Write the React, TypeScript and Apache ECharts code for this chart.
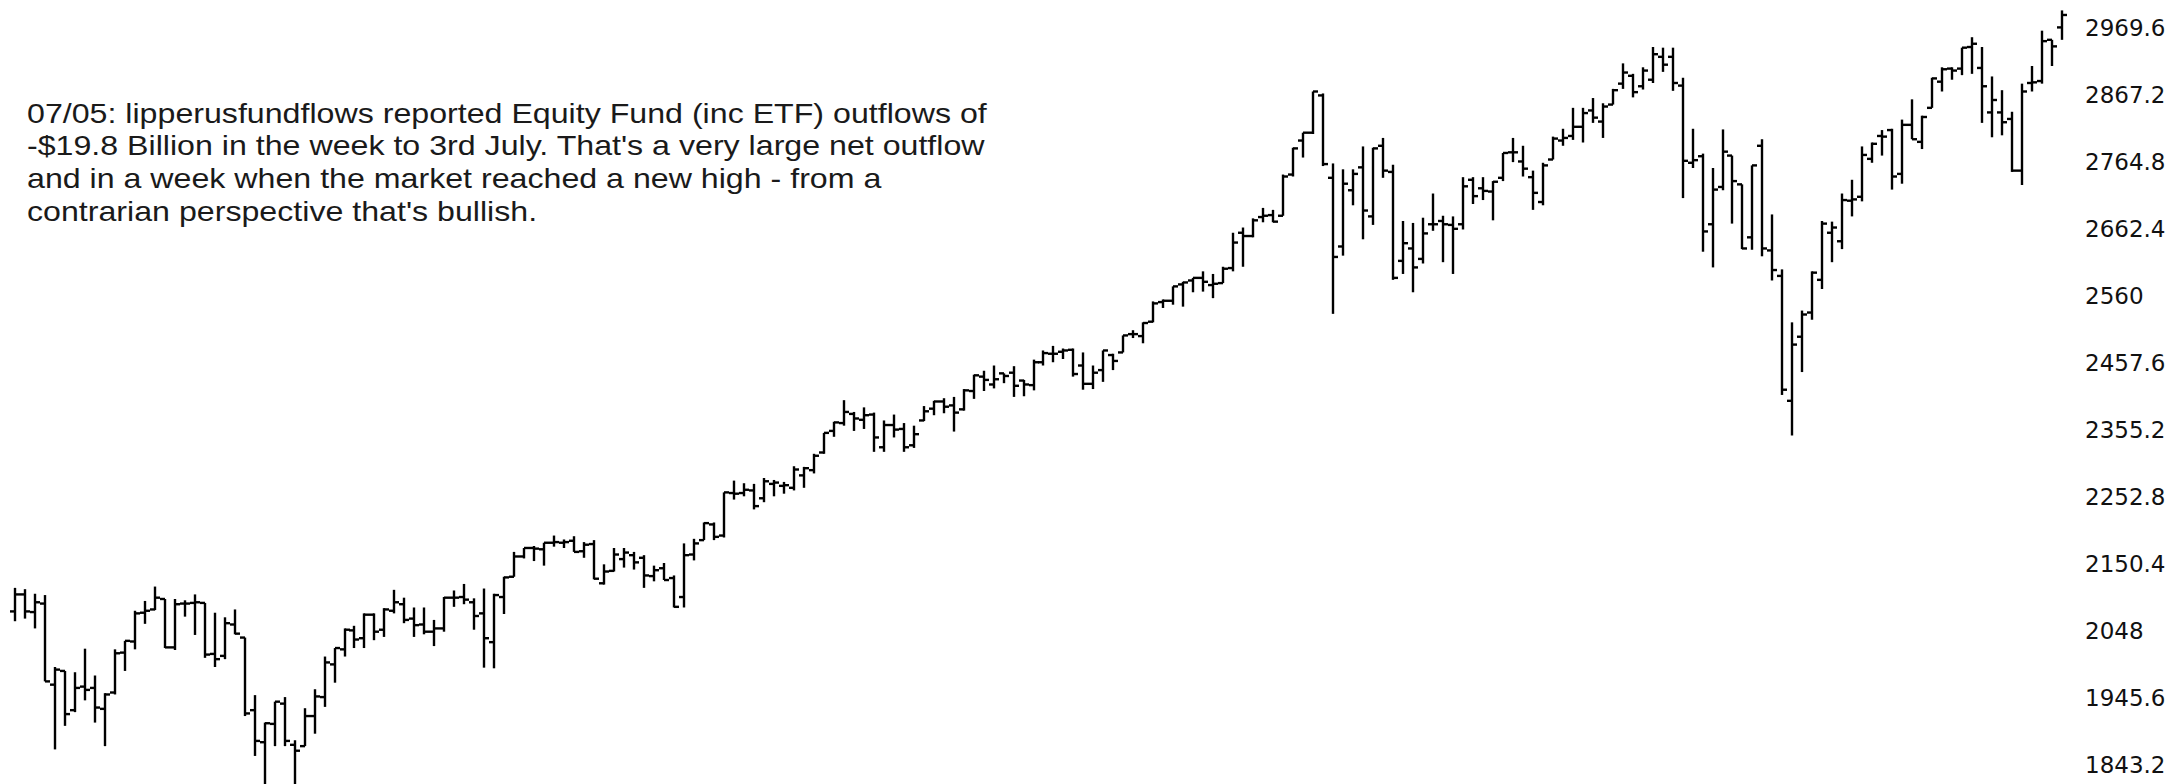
import React, { useEffect, useRef } from "react";
import * as echarts from "echarts";

// Weekly bars (Monday of each week), S&P 500, late Jul 2015 .. early Jul 2019
const firstWeek = "2015-07-27";
const weekCount = 206;

const opens: number[] = [
  // 2015
  2078, 2104, 2077, 2090, 1966, 1987, 1927, 1963, 1961, 1929, 1954, 2015, 2032, 2076, 2081, 2097, 2023, 2090, 2091, 2091, 2013, 2010, 2058,
  // 2016
  2038, 1927, 1878, 1906, 1937, 1874, 1872, 1918, 1947, 1997, 2020, 2049, 2037, 2073, 2050, 2079, 2089, 2067, 2058, 2047, 2052, 2099, 2100, 2092, 2075, 2031,
  2100, 2131, 2162, 2175, 2173, 2183, 2183, 2186, 2170, 2181, 2121, 2140, 2158, 2164, 2160, 2132, 2144, 2129, 2100, 2165, 2187, 2211, 2194, 2259, 2259, 2263,
  // 2017
  2251, 2273, 2270, 2267, 2286, 2294, 2321, 2354, 2366, 2380, 2371, 2379, 2329, 2363, 2357, 2332, 2370, 2388, 2399, 2393, 2387, 2415, 2437, 2425, 2442, 2443,
  2431, 2424, 2459, 2472, 2475, 2478, 2454, 2426, 2447, 2470, 2474, 2502, 2499, 2521, 2551, 2553, 2578, 2584, 2588, 2577, 2580, 2603, 2657, 2652, 2681, 2684,
  // 2018
  2683, 2746, 2798, 2810, 2867, 2741, 2636, 2722, 2757, 2682, 2790, 2750, 2614, 2633, 2617, 2670, 2675, 2669, 2670, 2738, 2725, 2720, 2741, 2780, 2766, 2742,
  2704, 2769, 2798, 2805, 2819, 2844, 2827, 2853, 2885, 2897, 2881, 2891, 2926, 2926, 2882, 2764, 2774, 2670, 2727, 2775, 2731, 2650, 2790, 2630, 2591, 2400, 2498,
  // 2019
  2535, 2585, 2657, 2644, 2706, 2712, 2770, 2805, 2814, 2747, 2822, 2796, 2848, 2888, 2908, 2908, 2941, 2909, 2841, 2841, 2831, 2752, 2886, 2889, 2952, 2971,
];

const highs: number[] = [
  2114, 2112, 2105, 2103, 1993, 1987, 1985, 2021, 1980, 1953, 2020, 2033, 2079, 2094, 2116, 2097, 2097, 2095, 2104, 2091, 2076, 2069, 2081,
  2038, 1950, 1908, 1940, 1947, 1881, 1930, 1959, 2009, 2022, 2052, 2056, 2075, 2075, 2083, 2111, 2099, 2084, 2084, 2065, 2100, 2110, 2120, 2098, 2113, 2105,
  2131, 2169, 2175, 2178, 2183, 2194, 2188, 2193, 2184, 2187, 2150, 2175, 2175, 2169, 2164, 2148, 2152, 2133, 2182, 2189, 2214, 2214, 2260, 2278, 2274, 2273,
  2282, 2279, 2276, 2300, 2299, 2319, 2351, 2368, 2401, 2383, 2390, 2382, 2370, 2379, 2366, 2362, 2392, 2400, 2404, 2406, 2418, 2440, 2446, 2454, 2442, 2453,
  2432, 2463, 2477, 2484, 2480, 2480, 2474, 2454, 2477, 2472, 2500, 2508, 2520, 2552, 2555, 2575, 2582, 2588, 2598, 2594, 2605, 2657, 2665, 2679, 2695, 2692,
  2746, 2787, 2810, 2873, 2870, 2763, 2754, 2754, 2789, 2787, 2802, 2761, 2675, 2672, 2680, 2717, 2683, 2682, 2742, 2742, 2742, 2736, 2779, 2802, 2790, 2752,
  2764, 2804, 2816, 2848, 2848, 2863, 2855, 2877, 2916, 2900, 2910, 2941, 2940, 2940, 2894, 2816, 2778, 2756, 2815, 2775, 2731, 2760, 2800, 2685, 2601, 2520, 2538,
  2598, 2675, 2674, 2717, 2738, 2789, 2795, 2814, 2816, 2830, 2861, 2836, 2894, 2910, 2910, 2940, 2956, 2941, 2896, 2875, 2842, 2885, 2912, 2966, 2952, 2997,
];

const lows: number[] = [
  2063, 2067, 2052, 1971, 1867, 1903, 1924, 1942, 1908, 1872, 1951, 1987, 2020, 2059, 2080, 2022, 2019, 2070, 2042, 2007, 1993, 2005, 2043,
  1918, 1857, 1812, 1872, 1872, 1810, 1872, 1891, 1932, 1969, 2009, 2022, 2022, 2034, 2039, 2075, 2060, 2039, 2043, 2025, 2047, 2085, 2089, 2050, 1992, 1991,
  2074, 2131, 2159, 2155, 2148, 2177, 2175, 2169, 2160, 2127, 2119, 2139, 2145, 2142, 2114, 2124, 2126, 2084, 2084, 2156, 2187, 2187, 2191, 2249, 2254, 2234,
  2245, 2254, 2258, 2263, 2267, 2289, 2319, 2345, 2362, 2354, 2357, 2322, 2322, 2344, 2322, 2328, 2369, 2378, 2381, 2353, 2385, 2403, 2415, 2419, 2427, 2406,
  2407, 2416, 2454, 2459, 2464, 2437, 2417, 2418, 2429, 2447, 2474, 2496, 2488, 2520, 2542, 2547, 2544, 2566, 2567, 2557, 2580, 2598, 2605, 2650, 2673, 2673,
  2683, 2743, 2772, 2808, 2759, 2533, 2622, 2699, 2647, 2669, 2741, 2585, 2594, 2566, 2610, 2660, 2612, 2594, 2662, 2701, 2707, 2676, 2736, 2765, 2743, 2692,
  2699, 2769, 2790, 2799, 2795, 2825, 2802, 2853, 2877, 2864, 2876, 2886, 2903, 2874, 2710, 2756, 2628, 2604, 2722, 2671, 2632, 2631, 2621, 2584, 2409, 2347, 2444,
  2524, 2571, 2612, 2632, 2682, 2705, 2764, 2775, 2723, 2732, 2800, 2785, 2848, 2873, 2891, 2898, 2900, 2825, 2803, 2806, 2750, 2730, 2873, 2885, 2912, 2952,
];

const closes: number[] = [
  2104, 2078, 2092, 1971, 1989, 1921, 1961, 1958, 1931, 1951, 2014, 2033, 2075, 2079, 2099, 2023, 2089, 2090, 2092, 2012, 2005, 2060, 2044,
  1922, 1880, 1907, 1940, 1880, 1865, 1918, 1948, 2000, 2022, 2050, 2035, 2073, 2047, 2081, 2092, 2065, 2057, 2047, 2052, 2099, 2099, 2096, 2071, 2037, 2103,
  2130, 2162, 2175, 2174, 2183, 2184, 2184, 2169, 2180, 2128, 2139, 2165, 2168, 2153, 2133, 2141, 2126, 2085, 2164, 2182, 2213, 2192, 2260, 2258, 2264, 2239,
  2277, 2275, 2271, 2295, 2297, 2316, 2351, 2367, 2383, 2373, 2378, 2344, 2363, 2356, 2329, 2349, 2384, 2399, 2391, 2382, 2416, 2439, 2432, 2433, 2438, 2423,
  2425, 2459, 2473, 2472, 2477, 2441, 2426, 2443, 2477, 2461, 2500, 2502, 2519, 2549, 2553, 2575, 2581, 2588, 2582, 2579, 2602, 2642, 2652, 2676, 2683, 2674,
  2743, 2786, 2810, 2873, 2762, 2620, 2732, 2747, 2691, 2786, 2752, 2588, 2641, 2604, 2656, 2670, 2670, 2663, 2728, 2713, 2721, 2735, 2779, 2780, 2755, 2718,
  2760, 2801, 2802, 2819, 2840, 2833, 2850, 2875, 2902, 2872, 2905, 2930, 2914, 2886, 2767, 2768, 2659, 2723, 2781, 2736, 2633, 2760, 2633, 2600, 2417, 2486, 2532,
  2596, 2671, 2665, 2707, 2708, 2776, 2793, 2804, 2743, 2822, 2800, 2834, 2893, 2907, 2905, 2940, 2946, 2881, 2860, 2826, 2752, 2873, 2887, 2950, 2942, 2990,
];

const yTickLabels: number[] = [1843.2, 1945.6, 2048, 2150.4, 2252.8, 2355.2, 2457.6, 2560, 2662.4, 2764.8, 2867.2, 2969.6];

const noteLines: string[] = [
  "07/05: lipperusfundflows reported Equity Fund (inc ETF) outflows of",
  "-$19.8 Billion in the week to 3rd July. That's a very large net outflow",
  "and in a week when the market reached a new high - from a",
  "contrarian perspective that's bullish.",
];

function buildWeeks(): string[] {
  const out: string[] = [];
  const start = new Date(firstWeek + "T00:00:00Z").getTime();
  for (let i = 0; i < weekCount; i++) {
    const d = new Date(start + i * 7 * 86400000);
    out.push(d.toISOString().slice(0, 10));
  }
  return out;
}

export default function App() {
  const ref = useRef<HTMLDivElement>(null);

  useEffect(() => {
    if (!ref.current) return;
    const chart = echarts.init(ref.current, undefined, { renderer: "svg" });
    const weeks = buildWeeks();
    const seriesData = weeks.map((_, i) => [i, opens[i], highs[i], lows[i], closes[i]]);

    chart.setOption({
      animation: false,
      backgroundColor: "#ffffff",
      grid: { left: 10, right: 114, top: 0, bottom: 0, containLabel: false },
      xAxis: {
        type: "category",
        data: weeks,
        boundaryGap: true,
        show: false,
      },
      yAxis: {
        type: "value",
        position: "right",
        min: 1814.1,
        max: 3012.9,
        scale: true,
        axisLine: { show: false },
        axisTick: { show: false },
        splitLine: { show: false },
        axisLabel: {
          customValues: yTickLabels,
          margin: 18,
          color: "#111111",
          fontFamily: "'DejaVu Sans', sans-serif",
          fontSize: 23,
          formatter: (v: number) => v.toFixed(1).replace(/\.0$/, ""),
        },
      },
      graphic: noteLines.map((t, k) => ({
        type: "text",
        x: 27,
        y: 112.8 + 32.8 * k,
        scaleX: 1.149,
        silent: true,
        style: {
          text: t,
          font: "28px 'Liberation Sans', Arial, sans-serif",
          fill: "#1a1a1a",
          verticalAlign: "middle",
          align: "left",
        },
      })),
      series: [
        {
          type: "custom",
          clip: true,
          data: seriesData,
          dimensions: ["idx", "open", "high", "low", "close"],
          encode: { x: 0, y: [1, 2, 3, 4] },
          renderItem: (params: any, api: any) => {
            const i = api.value(0);
            const o = api.coord([i, api.value(1)]);
            const h = api.coord([i, api.value(2)]);
            const l = api.coord([i, api.value(3)]);
            const c = api.coord([i, api.value(4)]);
            const x = Math.round(h[0]);
            const style = { stroke: "#000000", lineWidth: 2.4, fill: null };
            return {
              type: "group",
              children: [
                { type: "line", shape: { x1: x, y1: h[1], x2: x, y2: l[1] }, style },
                { type: "line", shape: { x1: x - 5, y1: o[1], x2: x, y2: o[1] }, style },
                { type: "line", shape: { x1: x, y1: c[1], x2: x + 5, y2: c[1] }, style },
              ],
            };
          },
        },
      ],
    });

    return () => chart.dispose();
  }, []);

  return (
    <div
      ref={ref}
      style={{ position: "fixed", left: 0, top: 0, width: 2181, height: 784, background: "#fff" }}
    />
  );
}
